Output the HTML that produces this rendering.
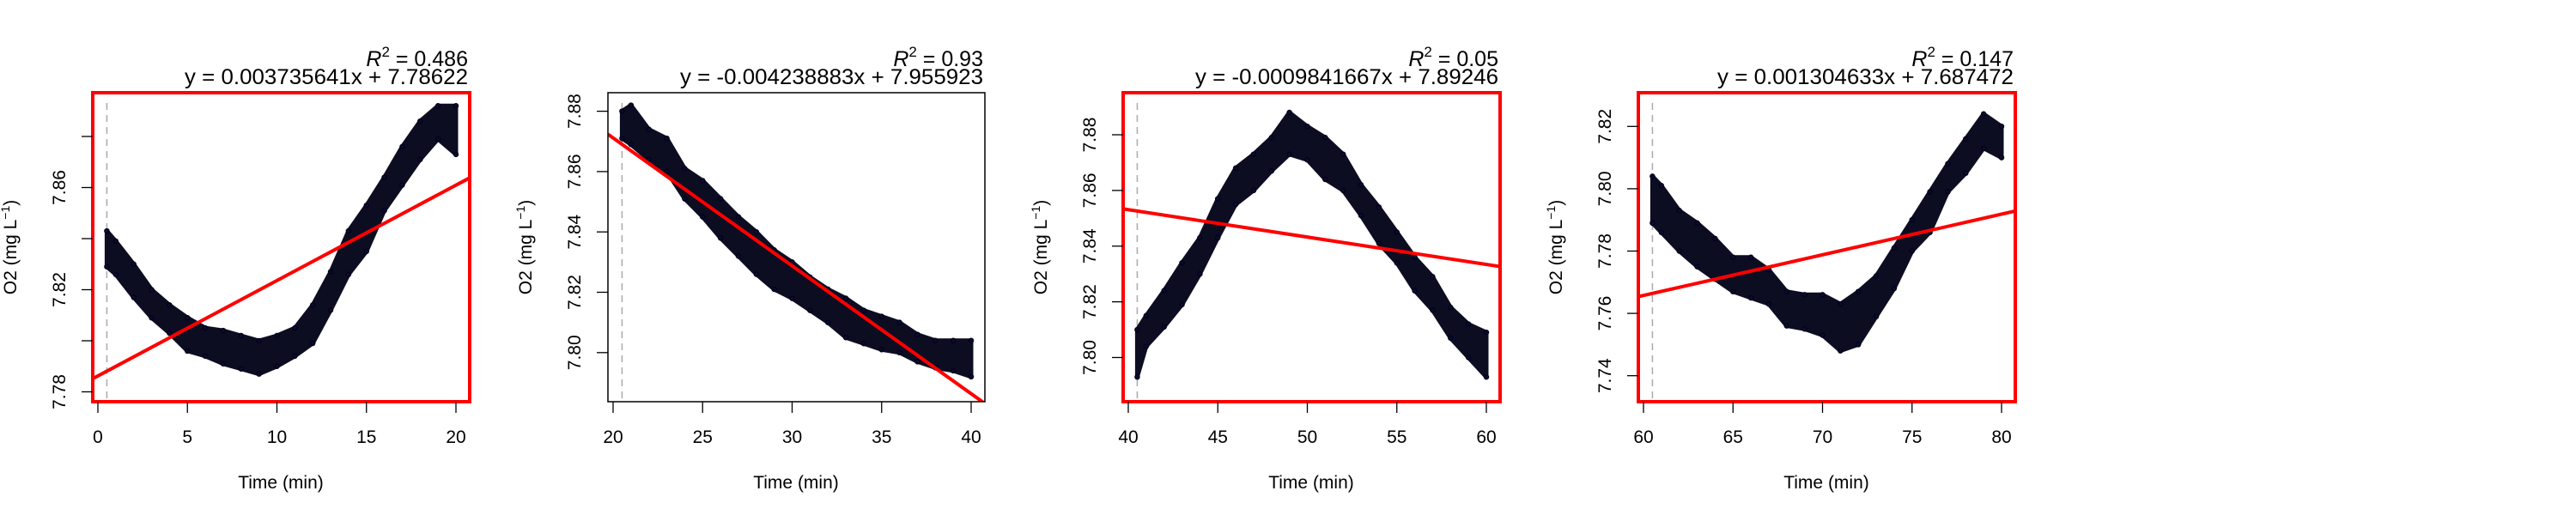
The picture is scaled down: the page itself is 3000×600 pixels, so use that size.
<!DOCTYPE html>
<html><head><meta charset="utf-8">
<style>
html,body{margin:0;padding:0;background:#fff;}
svg{display:block;font-family:"Liberation Sans",Arial,sans-serif;}
</style></head>
<body>
<svg id="chart" width="3000" height="600" viewBox="0 0 3000 600" xmlns="http://www.w3.org/2000/svg"></svg>
<script>
// ---- data ----
const p1Times = [0.5,1,2,3,4,5,6,7,8,9,10,11,12,13,14,15,16,17,18,19,20];
const p1Hi = [7.843,7.839,7.830,7.820,7.814,7.809,7.805,7.804,7.802,7.800,7.802,7.805,7.814,7.827,7.843,7.853,7.864,7.876,7.886,7.892,7.892];
const p1Lo = [7.829,7.826,7.817,7.809,7.803,7.796,7.794,7.791,7.789,7.787,7.790,7.794,7.799,7.812,7.826,7.835,7.851,7.861,7.871,7.879,7.873];

const p2Times = [20.5,21,22,23,24,25,26,27,28,29,30,31,32,33,34,35,36,37,38,39,40];
const p2Hi = [7.880,7.882,7.874,7.871,7.861,7.857,7.851,7.845,7.840,7.834,7.830,7.825,7.821,7.818,7.814,7.812,7.810,7.806,7.804,7.804,7.804];
const p2Lo = [7.871,7.869,7.864,7.860,7.851,7.845,7.838,7.832,7.826,7.821,7.818,7.814,7.810,7.805,7.803,7.801,7.800,7.797,7.795,7.794,7.792];

const p3Times = [40.5,41,42,43,44,45,46,47,48,49,50,51,52,53,54,55,56,57,58,59,60];
const p3Hi = [7.810,7.815,7.824,7.834,7.843,7.857,7.868,7.873,7.879,7.888,7.883,7.879,7.873,7.862,7.854,7.845,7.836,7.829,7.818,7.812,7.809];
const p3Lo = [7.793,7.804,7.811,7.819,7.830,7.843,7.855,7.860,7.867,7.873,7.871,7.864,7.860,7.851,7.841,7.834,7.824,7.817,7.807,7.800,7.793];

const p4Times = [60.5,61,62,63,64,65,66,67,68,69,70,71,72,73,74,75,76,77,78,79,80];
const p4Hi = [7.804,7.801,7.793,7.789,7.784,7.778,7.778,7.774,7.767,7.766,7.766,7.763,7.767,7.772,7.781,7.790,7.799,7.808,7.816,7.824,7.820];
const p4Lo = [7.789,7.786,7.780,7.775,7.771,7.767,7.765,7.763,7.756,7.755,7.753,7.748,7.750,7.759,7.768,7.780,7.786,7.799,7.805,7.813,7.810];

const slopes = [0.003735641,-0.004238883,-0.0009841667,0.001304633];
const intercepts = [7.78622,7.955923,7.89246,7.687472];
const r2Labels = ["0.486","0.93","0.05","0.147"];
const eqLabels = ["y = 0.003735641x + 7.78622","y = -0.004238883x + 7.955923","y = -0.0009841667x + 7.89246","y = 0.001304633x + 7.687472"];
const xTickLabels = [[0,5,10,15,20],[20,25,30,35,40],[40,45,50,55,60],[60,65,70,75,80]];
const yTickValues = [[7.78,7.80,7.82,7.84,7.86,7.88],[7.80,7.82,7.84,7.86,7.88],[7.80,7.82,7.84,7.86,7.88],[7.74,7.76,7.78,7.80,7.82]];
const yTickShown = [[7.78,7.82,7.86],[7.80,7.82,7.84,7.86,7.88],[7.80,7.82,7.84,7.86,7.88],[7.74,7.76,7.78,7.80,7.82]];
const startTimes = [0.5,20.5,40.5,60.5];

// ---- layout (not data) ----
const NS="http://www.w3.org/2000/svg";
const svg=document.getElementById('chart');
const seriesT=[p1Times,p2Times,p3Times,p4Times];
const seriesHi=[p1Hi,p2Hi,p3Hi,p4Hi];
const seriesLo=[p1Lo,p2Lo,p3Lo,p4Lo];
const yRef=[[7.78,456.5,7.86,218.5],[7.80,410.8,7.88,129.6],[7.80,416.5,7.88,157],[7.74,437.7,7.82,147.3]];
const boxColors=["#ff0000","#000000","#ff0000","#ff0000"];
const eqWidths=[330,353,353,345];
const L=108,R=547,T=108,B=468;

function mk(tag,attrs,parent){const e=document.createElementNS(NS,tag);for(const k in attrs)e.setAttribute(k,attrs[k]);(parent||svg).appendChild(e);return e;}

for(let p=0;p<4;p++){
  const g=mk('g',{transform:`translate(${p*600},0)`});
  
  
  const x0=xTickLabels[p][0], x1=xTickLabels[p][4];
  const xs=v=>114+(v-x0)*(531-114)/(x1-x0);
  const r=yRef[p];
  const ys=v=>r[1]+(v-r[0])*(r[3]-r[1])/(r[2]-r[0]);

  const clip=mk('clipPath',{id:'clip'+p},g);
  mk('rect',{x:L,y:T,width:R-L,height:B-T},clip);
  const plot=mk('g',{'clip-path':`url(#clip${p})`},g);

  // start marker dashed line
  const dl=mk('line',{x1:xs(startTimes[p]),x2:xs(startTimes[p]),y1:120,y2:B,stroke:'#aaaaaa','stroke-width':1.5,'stroke-dasharray':'8,6'},plot);
  
  

  // data band
  const T_=seriesT[p],H=seriesHi[p],Lo=seriesLo[p];
  let d='';
  for(let i=0;i<T_.length;i++)d+=(i?'L':'M')+xs(T_[i]).toFixed(1)+','+ys(H[i]).toFixed(1);
  for(let i=T_.length-1;i>=0;i--)d+='L'+xs(T_[i]).toFixed(1)+','+ys(Lo[i]).toFixed(1);
  const band=mk('path',{d:d+'Z',fill:'#0d0d22',stroke:'#0d0d22','stroke-width':5,'stroke-linejoin':'round'},plot);
  
  
  for(let i=0;i<T_.length;i++){
    for(const v of [H[i],Lo[i]]){
      const c=mk('circle',{cx:xs(T_[i]),cy:ys(v),r:2.6,fill:'none',stroke:'#000022','stroke-width':1.3},plot);
      
      
    }
  }
  // regression line
  const xa=x0+(L-114)*(x1-x0)/(531-114), xb=x0+(R-114)*(x1-x0)/(531-114);
  const fl=mk('line',{x1:L,x2:R,y1:ys(slopes[p]*xa+intercepts[p]),y2:ys(slopes[p]*xb+intercepts[p]),stroke:'#ff0000','stroke-width':4},plot);
  
  

  // box
  const bw=boxColors[p]==='#000000'?1.5:4;
  const bx=mk('rect',{x:L,y:T,width:R-L,height:B-T,fill:'none',stroke:boxColors[p],'stroke-width':bw},g);
  
  

  // x axis
  for(const v of xTickLabels[p]){
    const tl=mk('line',{x1:xs(v),x2:xs(v),y1:B,y2:481,stroke:'#000','stroke-width':1.3},g);
    
    
    const t=mk('text',{x:xs(v),y:516,'font-size':21,'text-anchor':'middle',fill:'#000'},g);
    t.textContent=v;
    
    
  }
  const xt=mk('text',{x:327,y:569,'font-size':21,'text-anchor':'middle'},g);
  xt.textContent='Time (min)';
  
  

  // y axis
  for(const v of yTickValues[p]){
    const tl=mk('line',{x1:95,x2:L,y1:ys(v),y2:ys(v),stroke:'#000','stroke-width':1.3},g);
    
    
  }
  for(const v of yTickShown[p]){
    const t=mk('text',{x:0,y:0,'font-size':21,'text-anchor':'middle',transform:`translate(76,${ys(v)}) rotate(-90)`},g);
    t.textContent=v.toFixed(2);
    
    
  }
  const yt=mk('text',{x:0,y:0,'font-size':21,'text-anchor':'middle',transform:'translate(19,288) rotate(-90)'},g);
  yt.innerHTML='O2 (mg L<tspan font-size="14" dy="-8">−1</tspan><tspan dy="8">)</tspan>';
  
  

  // annotations
  const rt=mk('text',{x:545,y:77,'font-size':25,'text-anchor':'end'},g);
  rt.innerHTML='<tspan font-style="italic">R</tspan><tspan font-size="17" dy="-11">2</tspan><tspan dy="11"> = '+r2Labels[p]+'</tspan>';
  
  
  const et=mk('text',{x:545-eqWidths[p],y:98,'font-size':25,textLength:eqWidths[p],lengthAdjust:'spacingAndGlyphs'},g);
  et.textContent=eqLabels[p];
  
  
}
</script>
</body></html>
